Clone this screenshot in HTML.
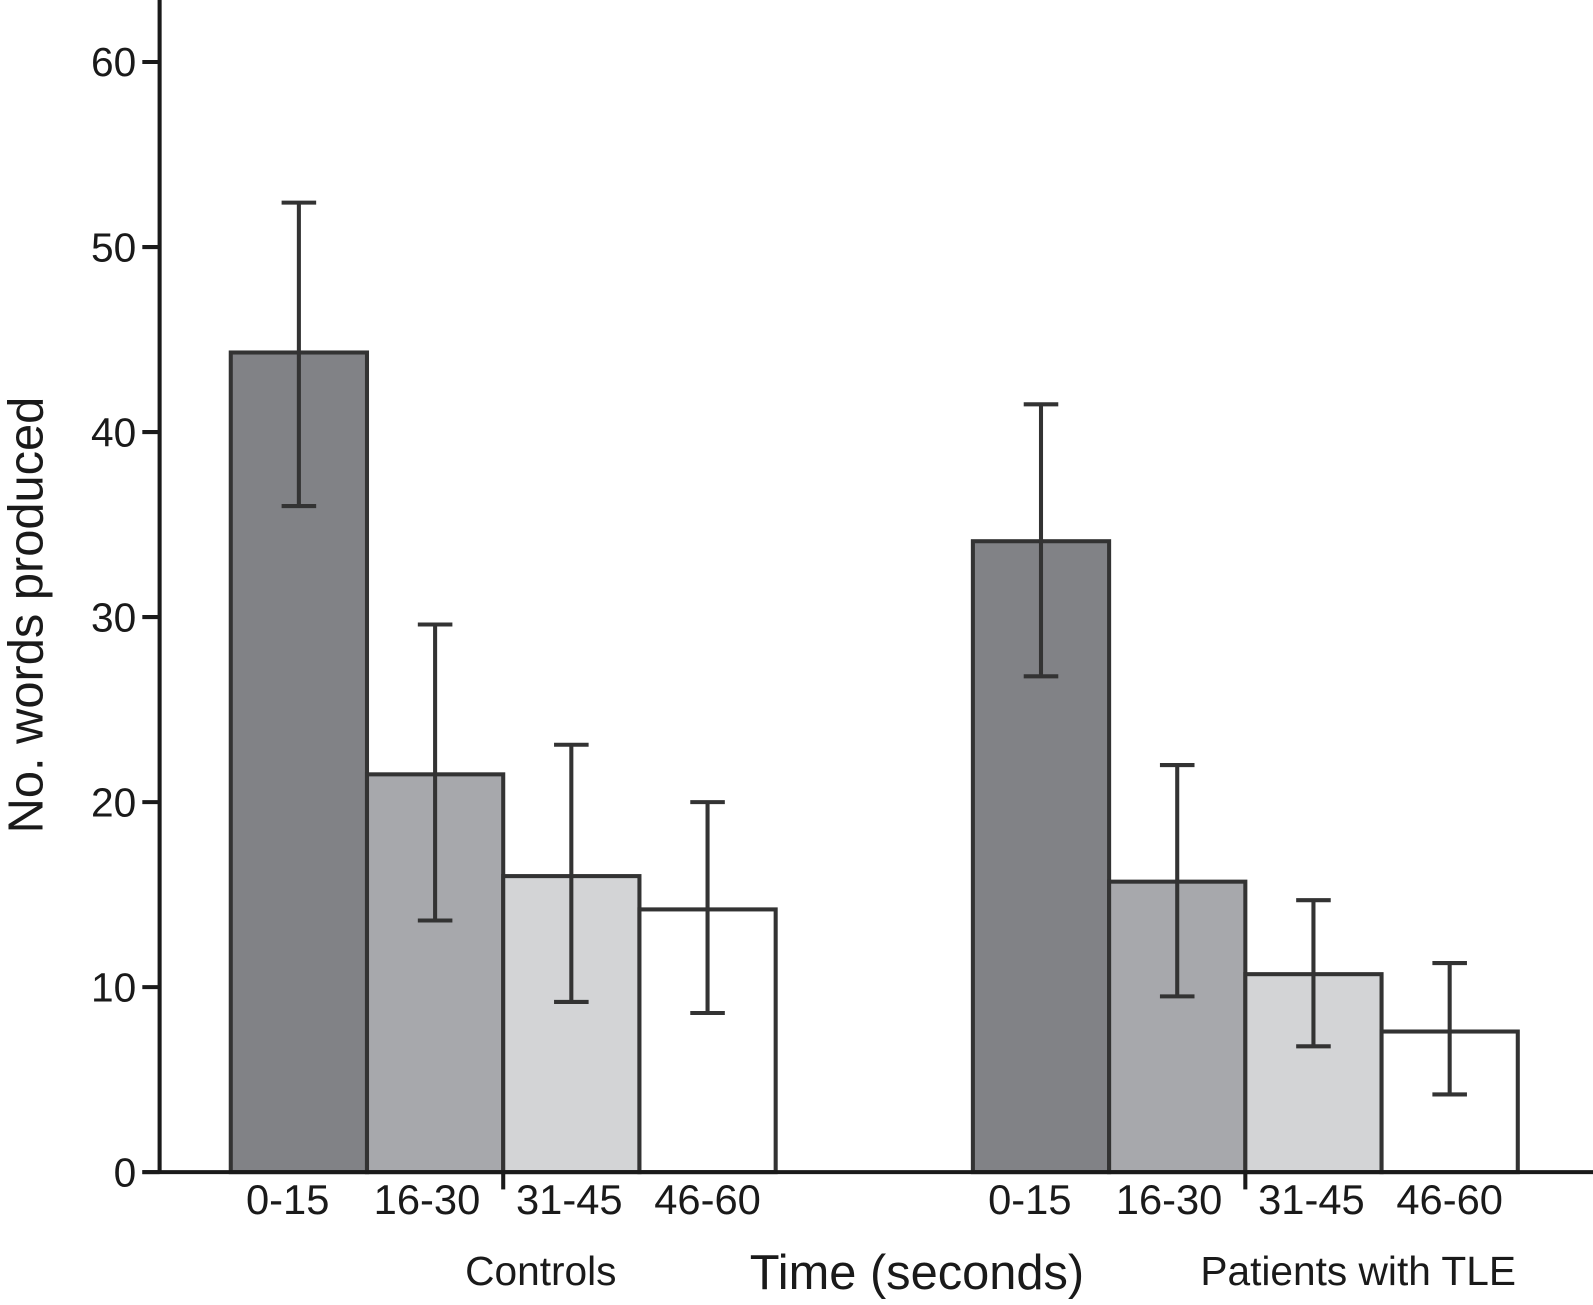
<!DOCTYPE html>
<html><head><meta charset="utf-8"><style>
html,body{margin:0;padding:0;background:#fff;}
svg text{font-family:"Liberation Sans",Arial,sans-serif;fill:#1a1a1a;}
</style></head><body>
<svg width="1593" height="1300" xmlns="http://www.w3.org/2000/svg"><g id="chart" transform="scale(1.0166)"></g></svg>
<script>
const groups = ["Controls", "Patients with TLE"];
const categories = ["0-15", "16-30", "31-45", "46-60"];
const controlsMeans = [44.3, 21.5, 16.0, 14.2];
const controlsUpper = [52.4, 29.6, 23.1, 20.0];
const controlsLower = [36.0, 13.6, 9.2, 8.6];
const patientsMeans = [34.1, 15.7, 10.7, 7.6];
const patientsUpper = [41.5, 22.0, 14.7, 11.3];
const patientsLower = [26.8, 9.5, 6.8, 4.2];
const yTicks = [0, 10, 20, 30, 40, 50, 60];

const svg = document.getElementById('chart');
const NS = 'http://www.w3.org/2000/svg';
const y0 = 1153, pxPer = 18.2;
function yScale(v){ return y0 - v * pxPer; }
const groupStart = [227, 957], barW = 134;
function xBar(g, i){ return groupStart[g] + i * barW; }
const fills = ["#818286", "#a7a8ac", "#d3d4d6", "#ffffff"];
const labelShift = [-11, -8, -2, 0];
function mk(tag, attrs){ const e = document.createElementNS(NS, tag); for (const k in attrs) e.setAttribute(k, attrs[k]); svg.appendChild(e); return e; }

let e = mk('line', {x1:157, y1:0, x2:157, y2:y0, stroke:'#1a1a1a', 'stroke-width':4});


yTicks.forEach(t => {
  const y = yScale(t);
  let l = mk('line', {x1:140, y1:y, x2:157, y2:y, stroke:'#1a1a1a', 'stroke-width':4});
  
  
  let tx = mk('text', {x:134, y:y+14, 'text-anchor':'end', 'font-size':40});
  tx.textContent = t;
  
  
});

const means = [controlsMeans, patientsMeans], ups = [controlsUpper, patientsUpper], lows = [controlsLower, patientsLower];
for (let g = 0; g < 2; g++) {
  categories.forEach((c, i) => {
    const x = xBar(g, i), v = means[g][i];
    let r = mk('rect', {x:x, y:yScale(v), width:barW, height:y0 - yScale(v), fill:fills[i], stroke:'#333', 'stroke-width':4});
    
    
    const cx = x + barW / 2, yu = yScale(ups[g][i]), yl = yScale(lows[g][i]);
    const p = mk('path', {d:`M${cx},${yu}V${yl}M${cx-17},${yu}H${cx+17}M${cx-17},${yl}H${cx+17}`, stroke:'#333', 'stroke-width':4, fill:'none'});
    
    
    let t = mk('text', {x:cx + labelShift[i], y:1194, 'text-anchor':'middle', 'font-size':41});
    t.textContent = c;
    
    
  });
  let s = mk('line', {x1:xBar(g,2), y1:y0, x2:xBar(g,2), y2:1170, stroke:'#1a1a1a', 'stroke-width':4});
  
  
}
e = mk('line', {x1:140, y1:y0, x2:1568, y2:y0, stroke:'#1a1a1a', 'stroke-width':4});



let gl = mk('text', {x:532, y:1264, 'text-anchor':'middle', 'font-size':40});
gl.textContent = groups[0];


gl = mk('text', {x:1336, y:1264, 'text-anchor':'middle', 'font-size':40});
gl.textContent = groups[1];


let xt = mk('text', {x:902, y:1268, 'text-anchor':'middle', 'font-size':48});
xt.textContent = 'Time (seconds)';


let yt = mk('text', {x:0, y:0, 'text-anchor':'middle', 'font-size':48, transform:'translate(42,605) rotate(-90)'});
yt.textContent = 'No. words produced';


</script>
</body></html>
